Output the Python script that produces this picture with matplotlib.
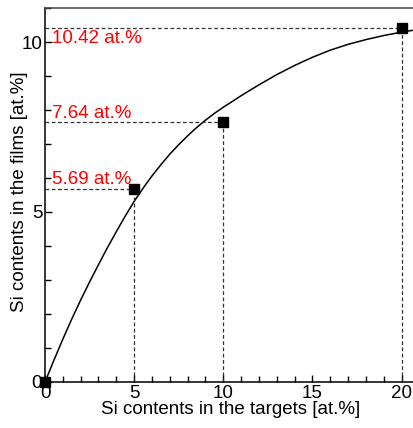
import matplotlib
matplotlib.use("Agg")
import matplotlib.pyplot as plt
from matplotlib.ticker import MultipleLocator

plt.rcParams["font.family"] = ["Liberation Sans", "DejaVu Sans"]

# measured points (target Si -> film Si)
target_si = [0, 5, 10, 20]
film_si = [0, 5.69, 7.64, 10.42]
label_texts = ["5.69 at.%", "7.64 at.%", "10.42 at.%"]

# fitted curve
curve_x = [0, 0.5, 1, 1.5, 2, 2.5, 3, 3.5, 4, 4.5, 5, 5.5, 6, 6.5, 7, 7.5, 8, 8.5, 9, 9.5,
           10, 11, 12, 13, 14, 15, 16, 17, 18, 19, 20, 20.7]
curve_y = [0, 0.64, 1.26, 1.85, 2.41, 2.94, 3.45, 3.95, 4.42, 4.88, 5.31, 5.70, 6.06, 6.39,
           6.70, 6.98, 7.24, 7.48, 7.70, 7.90, 8.08, 8.42, 8.74, 9.04, 9.31, 9.55, 9.76,
           9.93, 10.07, 10.19, 10.29, 10.35]

fig = plt.figure(figsize=(4.14, 4.28), dpi=100)
ax = fig.add_axes([0.1087, 0.1075, 0.8913, 0.8738])

ax.plot(curve_x, curve_y, color="black", lw=1.1)

# guide lines from each point to both axes
for xv, yv in zip(target_si[1:], film_si[1:]):
    ax.plot([0, xv], [yv, yv], color="#333333", lw=0.9, ls=(0, (3, 2)))
    ax.plot([xv, xv], [0, yv], color="#333333", lw=0.9, ls=(0, (3, 2)))

ax.plot(target_si, film_si, ls="none", marker="s", ms=7.5, color="black",
        clip_on=False, zorder=5)

# red value labels
for txt, yv in zip(label_texts, film_si[1:]):
    va = "top" if yv > 10 else "bottom"
    off = -0.08 if yv > 10 else 0.02
    ax.text(0.4, yv + off, txt, color="#ff0000", fontsize=13.5, ha="left", va=va)

ax.set_xlim(0, 20.7)
ax.set_ylim(0, 11)
ax.xaxis.set_major_locator(MultipleLocator(5))
ax.xaxis.set_minor_locator(MultipleLocator(1))
ax.yaxis.set_major_locator(MultipleLocator(5))
ax.yaxis.set_minor_locator(MultipleLocator(1))
ax.tick_params(which="both", direction="in", labelsize=13.5, width=1, pad=2)
ax.tick_params(which="major", length=5)
ax.tick_params(which="minor", length=4)
ax.spines["right"].set_visible(False)
for s in ["left", "bottom", "top"]:
    ax.spines[s].set_linewidth(1.1)
ax.spines["top"].set_color("#444444")

ax.set_xlabel("Si contents in the targets [at.%]", fontsize=13.5)
ax.set_ylabel("Si contents in the films [at.%]", fontsize=13.5)
ax.xaxis.set_label_coords(0.504, -0.05)
ax.yaxis.set_label_coords(-0.068, 0.51)
ax.yaxis.label.set_va("center")

fig.savefig("out.png", dpi=100)
